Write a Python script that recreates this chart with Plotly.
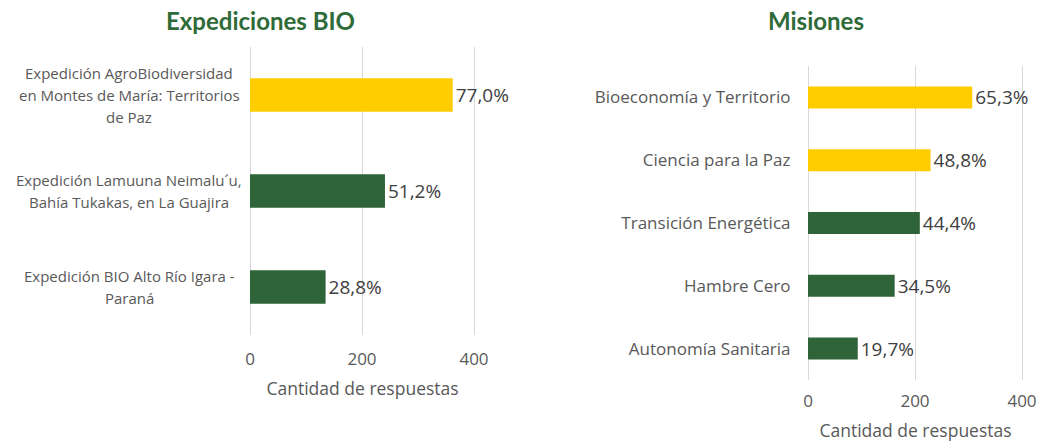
import plotly.graph_objects as go

# Data
exp_cats = ["Expedición AgroBiodiversidad<br>en Montes de María: Territorios<br>de Paz",
            "Expedición Lamuuna Neimalu´u,<br>Bahía Tukakas, en La Guajira",
            "Expedición BIO Alto Río Igara -<br>Paraná"]
exp_vals = [362, 241, 135]
exp_pct = [77.0, 51.2, 28.8]
exp_colors = ["#FFCC00", "#2F6338", "#2F6338"]

mis_cats = ["Bioeconomía y Territorio", "Ciencia para la Paz", "Transición Energética",
            "Hambre Cero", "Autonomía Sanitaria"]
mis_vals = [307, 229, 209, 162, 93]
mis_pct = [65.3, 48.8, 44.4, 34.5, 19.7]
mis_colors = ["#FFCC00", "#FFCC00", "#2F6338", "#2F6338", "#2F6338"]

x_ticks = [0, 200, 400]
x_title = "Cantidad de respuestas"

W, H = 1042, 445
FONT = "Open Sans"
GRAY = "#595959"
GREEN_T = "#2E6B38"
XR = [-2, 404]

def fmt(p):
    return f"{p:.1f}".replace(".", ",") + "%"

fig = go.Figure()
fig.add_trace(go.Bar(
    y=list(range(len(exp_cats))), x=exp_vals, orientation="h",
    marker=dict(color=exp_colors, line=dict(width=0)), width=0.35,
    text=[fmt(p) for p in exp_pct], textposition="outside", constraintext="none",
    textfont=dict(size=19, color="#404040", family=FONT), cliponaxis=False,
    xaxis="x", yaxis="y", hoverinfo="skip"))
fig.add_trace(go.Bar(
    y=mis_cats, x=mis_vals, orientation="h",
    marker=dict(color=mis_colors, line=dict(width=0)), width=0.35,
    text=[fmt(p) for p in mis_pct], textposition="outside", constraintext="none",
    textfont=dict(size=19, color="#404040", family=FONT), cliponaxis=False,
    xaxis="x2", yaxis="y2", hoverinfo="skip"))

def dom_x(px0, px400):
    s = (px400 - px0) / 400.0
    return [(px0 + XR[0] * s) / W, (px0 + XR[1] * s) / W]

def px_y(top, bottom):
    return [1 - bottom / H, 1 - top / H]

axis_common = dict(range=XR, tickvals=x_ticks, showgrid=True, gridcolor="#D9D9D9",
                   gridwidth=1, zeroline=False, showline=False, ticks="outside",
                   tickcolor="rgba(0,0,0,0)", automargin=False,
                   tickfont=dict(size=17, color=GRAY, family=FONT), fixedrange=True)

fig.update_layout(
    width=W, height=H, margin=dict(l=0, r=0, t=0, b=0, autoexpand=False),
    paper_bgcolor="white", plot_bgcolor="white", showlegend=False,
    font=dict(family=FONT, color=GRAY),
    xaxis=dict(domain=dom_x(250, 474), anchor="y", ticklen=9,
               title=dict(text=x_title, font=dict(size=17.5, color=GRAY, family=FONT), standoff=13),
               **axis_common),
    yaxis=dict(domain=px_y(47, 335), anchor="x", range=[2.5, -0.5], automargin=False,
               showticklabels=False, showgrid=False, zeroline=False, fixedrange=True),
    xaxis2=dict(domain=dom_x(808, 1022), anchor="y2", ticklen=6,
                title=dict(text=x_title, font=dict(size=17.5, color=GRAY, family=FONT), standoff=13),
                **axis_common),
    yaxis2=dict(domain=px_y(66, 380), anchor="x2", autorange="reversed", automargin=False,
                categoryorder="array", categoryarray=mis_cats,
                showgrid=False, zeroline=False, ticks="outside", ticklen=12,
                tickcolor="rgba(0,0,0,0)", tickfont=dict(size=17, color=GRAY, family=FONT),
                fixedrange=True),
)

annotations = []
LINE = 22
for i, c in enumerate(exp_cats):
    lines = c.split("<br>")
    n = len(lines)
    for j, ln in enumerate(lines):
        off = ((n - 1) / 2 - j) * LINE
        annotations.append(dict(text=ln, x=129 / W, xref="paper", y=i, yref="y",
                                xanchor="center", yanchor="middle", yshift=off,
                                showarrow=False, font=dict(size=15, color=GRAY, family=FONT)))
annotations.append(dict(text="<b>Expediciones BIO</b>", x=260 / W, y=1 - 20 / H,
                        xref="paper", yref="paper", xanchor="center", yanchor="middle",
                        showarrow=False, font=dict(size=24, color=GREEN_T, family="Lato")))
annotations.append(dict(text="<b>Misiones</b>", x=816 / W, y=1 - 20 / H,
                        xref="paper", yref="paper", xanchor="center", yanchor="middle",
                        showarrow=False, font=dict(size=24, color=GREEN_T, family="Lato")))
fig.update_layout(annotations=annotations)

fig.write_html("out.html", config={"displayModeBar": False, "staticPlot": True},
               post_script="document.body.style.margin='0';")
